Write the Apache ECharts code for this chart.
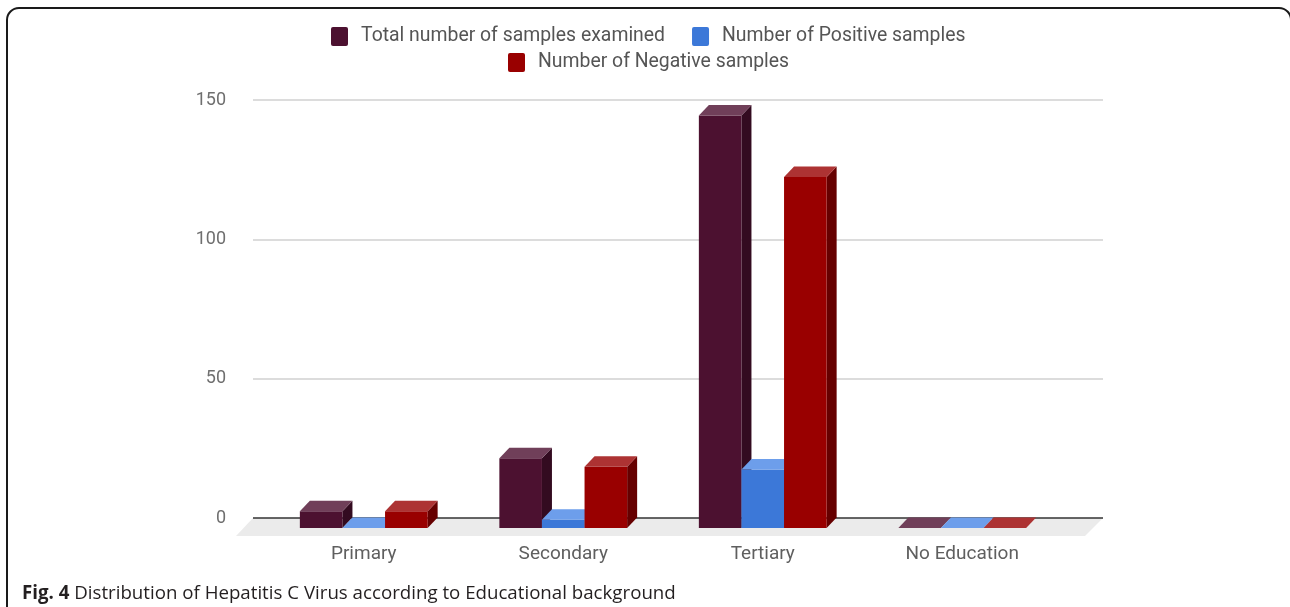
<!DOCTYPE html>
<html>
<head>
<meta charset="utf-8">
<script src="https://cdn.jsdelivr.net/npm/echarts@6/dist/echarts.min.js"></script>
<style>
  html, body { margin: 0; padding: 0; background: #fff; }
  #chart { width: 1290px; height: 607px; }
</style>
</head>
<body>
<div id="chart"></div>
<script>
const categories = ['Primary', 'Secondary', 'Tertiary', 'No Education']
const totalExamined = [6, 25, 148, 0]
const positiveSamples = [0, 3, 21, 0]
const negativeSamples = [6, 22, 126, 0]
const yTicks = [0, 50, 100, 150]

const seriesNames = ['Total number of samples examined', 'Number of Positive samples', 'Number of Negative samples']
// front / top / side shades for the fake 3d look
const palette = [
  { front: '#4c1130', top: '#703f59', side: '#330b20' },
  { front: '#3c78d8', top: '#6d9eeb', side: '#2a579f' },
  { front: '#990000', top: '#ad3333', side: '#660000' }
]

const DX = 10
const DY = 10.5

function makeRender(slot) {
  const c = palette[slot]
  return function (params, api) {
    const idx = api.value(0)
    const val = api.value(1)
    const base = api.coord([idx, 0])
    const top = api.coord([idx, val])
    const w = api.size([1, 0])[0] * 0.2135
    const x0 = base[0] + (slot - 1.5) * w
    const by = base[1]
    const ty = top[1]
    const children = []
    if (by - ty > 0.5) {
      children.push({
        type: 'polygon',
        shape: { points: [[x0 + w, ty], [x0 + w + DX, ty - DY], [x0 + w + DX, by - DY], [x0 + w, by]] },
        style: { fill: c.side }
      })
      children.push({
        type: 'rect',
        shape: { x: x0, y: ty, width: w, height: by - ty },
        style: { fill: c.front }
      })
    }
    children.push({
      type: 'polygon',
      shape: { points: [[x0, ty], [x0 + w, ty], [x0 + w + DX, ty - DY], [x0 + DX, ty - DY]] },
      style: { fill: c.top }
    })
    return { type: 'group', children: children }
  }
}

const seriesData = [totalExamined, positiveSamples, negativeSamples]

const legendBase = {
  padding: 5,
  icon: 'path://M2,0 L15,0 Q17,0 17,2 L17,17 Q17,19 15,19 L2,19 Q0,19 0,17 L0,2 Q0,0 2,0 Z',
  itemWidth: 17,
  itemHeight: 19,
  itemGap: 27,
  textStyle: { fontSize: 19.4, color: '#555', padding: [0, 0, 0, 8] }
}

const chart = echarts.init(document.getElementById('chart'))
chart.setOption({
  animation: false,
  textStyle: { fontFamily: 'Roboto' },
  title: {
    left: 17,
    top: 579,
    text: '{b|Fig. 4} Distribution of Hepatitis C Virus according to Educational background',
    textStyle: {
      fontFamily: 'Open Sans',
      fontSize: 18.7,
      fontWeight: 'normal',
      color: '#231f20',
      rich: {
        b: { fontFamily: 'Open Sans', fontSize: 18.7, fontWeight: 'bold', color: '#231f20' }
      }
    }
  },
  legend: [
    Object.assign({}, legendBase, { data: [seriesNames[0], seriesNames[1]], top: 22, left: 326 }),
    Object.assign({}, legendBase, { data: [seriesNames[2]], top: 48, left: 503 })
  ],
  graphic: [
    {
      type: 'rect',
      z: -10,
      shape: { x: 7, y: 8, width: 1284, height: 700, r: 12 },
      style: { fill: 'none', stroke: '#1a1a1a', lineWidth: 2 }
    },
    {
      type: 'polygon',
      z: -5,
      shape: { points: [[253, 518], [1103, 518], [1085, 536], [236, 536]] },
      style: { fill: '#ebebeb' }
    }
  ],
  grid: [
    { left: 253, right: 187, top: 100, bottom: 89 },
    { left: 264, width: 798, top: 110, bottom: 79 }
  ],
  xAxis: [
    { gridIndex: 0, type: 'value', show: false, min: 0, max: 1 },
    {
      gridIndex: 1,
      type: 'category',
      data: categories,
      axisLine: { show: false },
      axisTick: { show: false },
      axisLabel: { fontSize: 19, color: '#5f5f5f', margin: 17 }
    }
  ],
  yAxis: [
    {
      gridIndex: 0,
      type: 'value',
      min: yTicks[0],
      max: yTicks[yTicks.length - 1],
      interval: 50,
      axisLine: { show: false },
      axisTick: { show: false },
      axisLabel: { fontSize: 18, color: '#6f6f6f', margin: 27 },
      splitLine: { lineStyle: { color: ['#333', '#d0d0d0', '#d0d0d0', '#d0d0d0'], width: 1.5 } }
    },
    { gridIndex: 1, type: 'value', min: 0, max: 150, show: false }
  ],
  series: seriesData.map((arr, i) => ({
    name: seriesNames[i],
    type: 'custom',
    xAxisIndex: 1,
    yAxisIndex: 1,
    itemStyle: { color: palette[i].front },
    renderItem: makeRender(i),
    data: arr.map((v, k) => [k, v])
  }))
})
</script>
</body>
</html>
